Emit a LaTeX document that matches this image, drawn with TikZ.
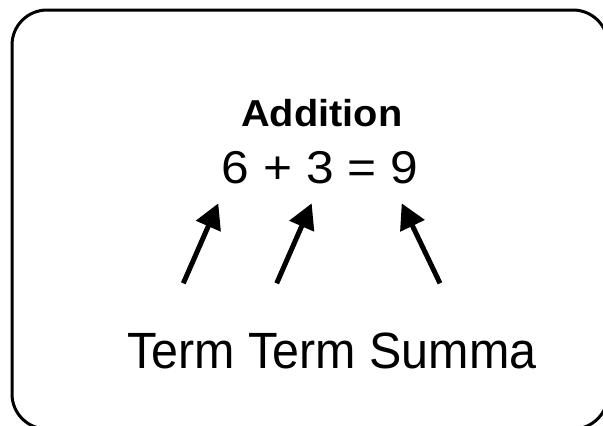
\documentclass[tikz,border=0pt]{standalone}
\usepackage{graphicx}
\usepackage{fontspec}
\setmainfont{Liberation Sans}
\usetikzlibrary{arrows.meta}
\tikzset{
  frame/.style={line width=3pt, rounded corners=35pt},
  label/.style={anchor=base, inner sep=0pt, text=black},
  pointer/.style={line width=5pt, -{Triangle[length=25pt,width=26pt]}, shorten >=0pt}
}
\begin{document}
\begin{tikzpicture}[x=1pt,y=-1pt]
\useasboundingbox (0,0) rectangle (603,426);
\clip (0,0) rectangle (603,426);
\draw[frame] (12,10) rectangle (608,429);
\node[label] (title) at (321.7,126) {\scalebox{1.06}[1]{\fontsize{37.5}{40}\selectfont\bfseries Addition}};
\node[label] (eq) at (320,183) {\scalebox{1.08}[1]{\fontsize{46}{50}\selectfont 6 + 3 = 9}};
\node[label] (terms) at (332,368) {\scalebox{0.95}[1]{\fontsize{51}{60}\selectfont Term Term Summa}};
\coordinate (t1) at (183.3,283.3);
\coordinate (h1) at (218.3,203.3);
\coordinate (t2) at (276.7,283.3);
\coordinate (h2) at (311.7,203.3);
\coordinate (t3) at (440,283.3);
\coordinate (h3) at (401.7,203.3);
\draw[pointer] (t1) -- (h1);
\draw[pointer] (t2) -- (h2);
\draw[pointer] (t3) -- (h3);
\end{tikzpicture}
\end{document}
